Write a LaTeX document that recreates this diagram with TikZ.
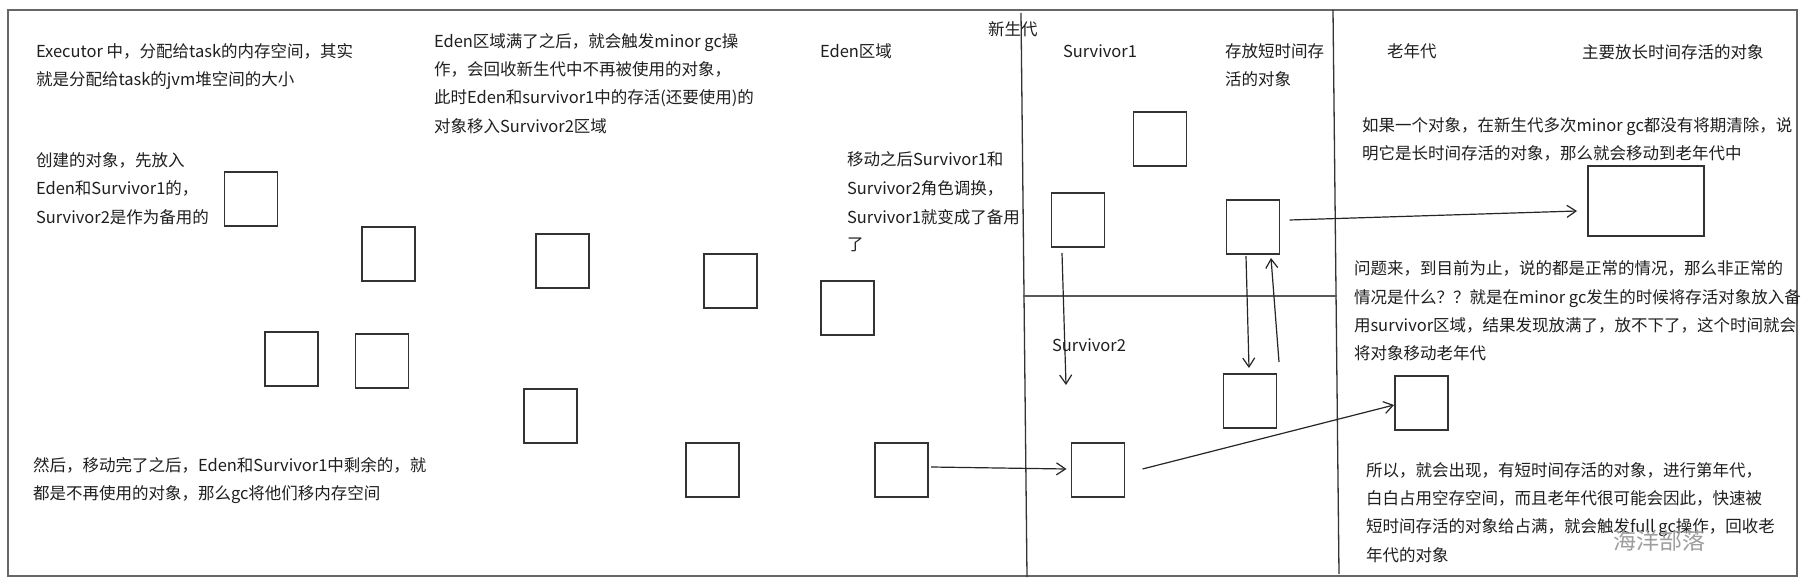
\documentclass[tikz,border=0pt]{standalone}
\usepackage{fontspec}
\setmainfont{Noto Sans CJK SC}
\usetikzlibrary{arrows.meta,calc}
\begin{document}
\begin{tikzpicture}[x=1pt,y=-1pt,
  txt/.style={inner sep=0pt,outer sep=0pt,anchor=base west,font=\fontsize{16.5}{28}\selectfont,text=black!88},
  objbox/.style={draw=black!80,line width=1.3pt,minimum width=53pt,minimum height=54pt,inner sep=0pt,outer sep=0pt},
  outerframe/.style={draw=black!60,line width=2pt},
  divider/.style={draw=black!80,line width=1.3pt},
  arr/.style={draw=black!85,line width=1.2pt,-{Straight Barb[length=9pt,width=12pt,line width=1.2pt]}}
]
\useasboundingbox (0,0) rectangle (1807,588);
\fill[white] (0,0) rectangle (1807,588);
% frame and dividers
\draw[outerframe] (8,10) rectangle (1797,576);
\draw[divider] (1021,13) -- (1027,577);
\draw[divider] (1333,10) -- (1339,574);
\draw[divider,draw=black!65] (1023,296) -- (1337,296);

% boxes
\node[objbox] (A) at (251,199) {};
\node[objbox] (B) at (388.5,254) {};
\node[objbox] (C) at (291.5,359) {};
\node[objbox] (D) at (382,361) {};
\node[objbox] (E) at (562.5,261) {};
\node[objbox] (F) at (730.5,281) {};
\node[objbox] (G) at (847.5,308) {};
\node[objbox] (H) at (550.5,416) {};
\node[objbox] (I) at (712.5,470) {};
\node[objbox] (J) at (901.5,470) {};
\node[objbox] (K) at (1160,139) {};
\node[objbox] (L) at (1078,220) {};
\node[objbox] (M) at (1253,227) {};
\node[objbox] (N) at (1250,401) {};
\node[objbox] (O) at (1098,470) {};
\node[objbox,minimum width=116pt,minimum height=70pt] (P) at (1646,201) {};
\node[objbox] (Q) at (1421.5,403) {};

% connectors
\coordinate (Lend) at (1066,385);
\draw[arr] ($(L.south)+(-16,6)$) -- (Lend);
\draw[arr] ($(M.south)+(-7,2)$) -- ($(N.north)+(-1,-6)$);
\draw[arr] ($(N.north)+(29,-12)$) -- ($(M.south)+(18,4)$);
\draw[arr] ($(M.east)+(10,-7)$) -- ($(P.west)+(-11,10)$);
\draw[arr] ($(J.east)+(3,-3)$) -- ($(O.west)+(-5,-1)$);
\draw[arr] ($(O.east)+(18,-1)$) -- ($(Q.west)+(-1,2)$);

% texts
\node[txt] (t1a) at (36,58) {Executor 中，分配给task的内存空间，其实};
\node[txt] (t1b) at (36,86) {就是分配给task的jvm堆空间的大小};
\node[txt] (t2a) at (36,167) {创建的对象，先放入};
\node[txt] (t2b) at (36,195) {Eden和Survivor1的，};
\node[txt] (t2c) at (36,223) {Survivor2是作为备用的};
\node[txt] (t3a) at (33,471) {然后，移动完了之后，Eden和Survivor1中剩余的，就};
\node[txt] (t3b) at (33,499) {都是不再使用的对象，那么gc将他们移内存空间};
\node[txt] (t4a) at (434,48) {Eden区域满了之后，就会触发minor gc操};
\node[txt] (t4b) at (434,76) {作，会回收新生代中不再被使用的对象，};
\node[txt] (t4c) at (434,104) {此时Eden和survivor1中的存活(还要使用)的};
\node[txt] (t4d) at (434,133) {对象移入Survivor2区域};
\node[txt] (t5) at (820,58) {Eden区域};
\node[txt] (t6a) at (847,166) {移动之后Survivor1和};
\node[txt] (t6b) at (847,195) {Survivor2角色调换，};
\node[txt] (t6c) at (847,223) {Survivor1就变成了备用};
\node[txt] (t6d) at (847,251) {了};
\node[txt] (t7) at (988,36) {新生代};
\node[txt] (t8) at (1063,58) {Survivor1};
\node[txt] (t9a) at (1225,58) {存放短时间存};
\node[txt] (t9b) at (1225,86) {活的对象};
\node[txt] (t10) at (1052,351) {Survivor2};
\node[txt] (t11) at (1387,58) {老年代};
\node[txt] (t12) at (1582,59) {主要放长时间存活的对象};
\node[txt] (t13a) at (1362,132) {如果一个对象，在新生代多次minor gc都没有将期清除，说};
\node[txt] (t13b) at (1362,160) {明它是长时间存活的对象，那么就会移动到老年代中};
\node[txt] (t14a) at (1354,274) {问题来，到目前为止，说的都是正常的情况，那么非正常的};
\node[txt] (t14b) at (1354,303) {情况是什么？？就是在minor gc发生的时候将存活对象放入备};
\node[txt] (t14c) at (1354,331) {用survivor区域，结果发现放满了，放不下了，这个时间就会};
\node[txt] (t14d) at (1354,359) {将对象移动老年代};
\node[txt] (t15a) at (1366,476) {所以，就会出现，有短时间存活的对象，进行第年代，};
\node[txt] (t15b) at (1366,504) {白白占用空存空间，而且老年代很可能会因此，快速被};
\node[txt] (t15c) at (1366,532) {短时间存活的对象给占满，就会触发full gc操作，回收老};
\node[txt] (t15d) at (1366,561) {年代的对象};
\node[txt,font=\fontsize{23}{28}\selectfont,text=black!38] (wm) at (1613,549) {海洋部落};
\end{tikzpicture}
\end{document}
